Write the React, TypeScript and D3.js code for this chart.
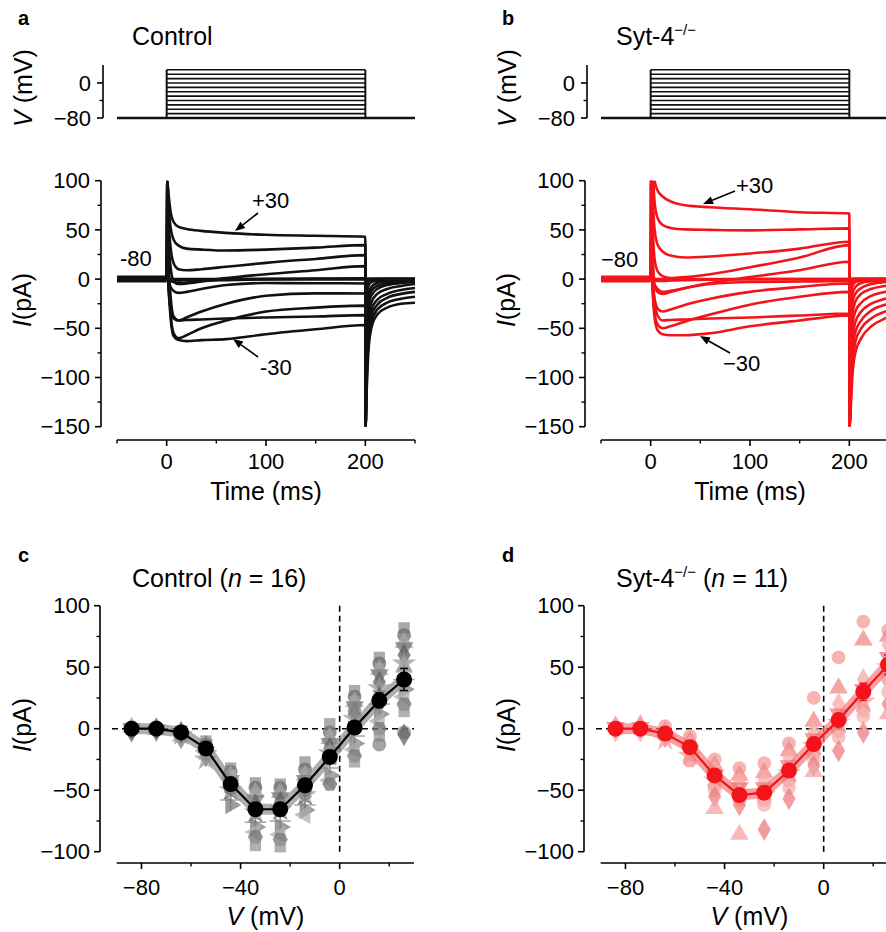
import React from "react";
import * as d3 from "d3";

const FONT = "'Liberation Sans', Arial, Helvetica, sans-serif";
const W = 886;
const H = 932;

// ---------- Voltage protocol ----------
const stepLevels = [-80, -70, -60, -50, -40, -30, -20, -10, 0, 10, 20, 30];
const stepStartMs = 0;
const stepEndMs = 200;
const holdingMV = -80;

// ---------- Current traces (pA) ----------
const stepT = [0, 0.6, 2, 4, 7, 12, 20, 35, 60, 100, 150, 200];
const tailT = [200.3, 201.5, 203, 206, 212, 222, 236, 250];

// order: +30, +20, +10, 0, -10, -20, -30, -40, -50, -60, -70, -80
const ctrlTraces = [
  [0, 100, 85, 68, 58, 53, 51, 49, 47, 45, 44, 43],
  [0, 100, 72, 52, 40, 34, 31, 30, 29, 30, 32, 34.5],
  [0, 100, 58, 32, 16, 10, 9, 10, 12.5, 16.5, 20.5, 24.4],
  [0, 90, 38, 12, -2, -5, -4.5, -2.5, 1, 5, 9, 13.2],
  [0, 60, 15, -18, -38, -42, -39, -33, -25, -17, -14.5, -14.6],
  [0, 40, 0, -35, -55, -60, -57, -50, -42, -33, -29, -27],
  [0, 25, -10, -40, -58, -62, -63, -62, -61, -56, -51, -46.7],
  [0, 10, -12, -30, -40, -42, -41.5, -41, -40, -39, -38, -36.6],
  [0, 5, -3, -8, -12, -14, -13, -10, -6, -4, -4.2, -4.4],
  [0, 3, -1, -2, -3, -4, -3.5, -2, -1, 0, 0.5, 0.7],
  [0, 1, 0, -1, -1, -1.5, -1, -0.5, 0, 0, 0, 0],
  [0, 0, 0, 0, 0, 0, 0, 0, 0, 0, 0, 0],
];
const ctrlTails = [
  [-150, -110, -75, -50, -36, -29, -25, -24],
  [-150, -100, -65, -43, -31, -24, -20, -18],
  [-150, -90, -57, -37, -26, -19, -15, -13],
  [-140, -80, -48, -31, -21, -15, -11, -9],
  [-120, -65, -38, -24, -15, -10, -7, -5],
  [-100, -50, -28, -17, -10, -6, -4, -3],
  [-90, -42, -22, -12, -7, -4, -2, -2],
  [-70, -30, -15, -8, -4, -2, -1, 0],
  [-40, -15, -7, -3, -1, 0, 0, 0],
  [-20, -6, -2, 0, 0, 0, 0, 0],
  [-5, -1, 0, 0, 0, 0, 0, 0],
  [0, 0, 0, 0, 0, 0, 0, 0],
];
const sytTraces = [
  [0, 130, 130, 100, 90, 84, 79, 75, 73, 71, 68, 66.7],
  [0, 130, 110, 78, 62, 55, 52, 50.5, 50, 49.5, 50.5, 51.5],
  [0, 130, 85, 50, 35, 28, 24, 22, 23, 26, 31, 38],
  [0, 110, 55, 20, 8, 3, 1, 2, 5, 12, 22, 34.5],
  [0, 70, 25, -5, -13, -15, -13, -9, -4, 2, 9, 17.6],
  [0, 45, 5, -20, -30, -33, -31, -26, -20, -13, -8, -4.4],
  [0, 25, -10, -40, -52, -56, -57, -57, -55, -48, -42, -37],
  [0, 15, -12, -35, -46, -50, -48, -43, -36, -26, -18, -13],
  [0, 8, -8, -25, -37, -42, -41.5, -41, -40, -39, -37, -35],
  [0, 4, -2, -6, -10, -13, -12, -9, -5, -3, -2.5, -2],
  [0, 1, 0, -1, -2, -2, -1.5, -1, -0.5, 0, 0, 0],
  [0, 0, 0, 0, 0, 0, 0, 0, 0, 0, 0, 0],
];
const sytTails = [
  [-150, -130, -100, -75, -60, -48, -40, -34],
  [-150, -120, -88, -64, -50, -40, -33, -28],
  [-150, -105, -75, -54, -42, -32, -26, -22],
  [-150, -90, -62, -44, -33, -25, -20, -16],
  [-130, -75, -48, -33, -24, -17, -13, -10],
  [-110, -60, -36, -23, -15, -10, -7, -5],
  [-90, -45, -25, -15, -9, -5, -3, -2],
  [-70, -32, -16, -8, -4, -2, -1, 0],
  [-40, -16, -7, -3, -1, 0, 0, 0],
  [-20, -6, -2, 0, 0, 0, 0, 0],
  [-5, -1, 0, 0, 0, 0, 0, 0],
  [0, 0, 0, 0, 0, 0, 0, 0],
];

// ---------- I-V data ----------
const ivV = [-84, -74, -64, -54, -44, -34, -24, -14, -4, 6, 16, 26];
const ctrlMean = [0, 0, -3, -16, -45, -65.5, -65.5, -46, -23, 1, 23, 40];
const ctrlSem = [0.5, 0.6, 1, 2, 3.5, 4, 4.5, 3.5, 3.5, 4, 6, 9];
const sytMean = [0, 0, -4, -15, -38, -54, -52, -34, -12.5, 7, 30, 52];
const sytSem = [0.8, 1, 1.5, 2.5, 4, 5, 5, 4, 4, 5, 7, 8];

const ctrlCells = [
  [0, -1, 1, 0, -2],
  [0, 1, -1, -2, 0],
  [-2, -4, -6, -8, -3, -5, -1],
  [-10, -13, -16, -19, -22, -25, -12, -18],
  [-32, -35, -38, -42, -46, -50, -54, -58, -62, -40, -48],
  [-44, -48, -52, -58, -62, -68, -72, -76, -80, -84, -88, -95, -66],
  [-45, -48, -52, -56, -60, -66, -70, -75, -80, -86, -90, -96, -63],
  [-27, -33, -38, -42, -48, -54, -58, -62, -66, -70, -50],
  [4, -3, -8, -12, -16, -20, -26, -32, -38, -42, -45, -18],
  [31, 26, 22, 18, 12, 8, 3, -6, -12, -17, -22, -27, 15],
  [58, 53, 48, 44, 38, 33, 28, 20, 12, 6, 0, -6, -13, 25],
  [82, 76, 70, 66, 60, 53, 46, 40, 32, 26, 20, 14, -3, -5, 50],
];
const sytCells = [
  [0, 2, -2, 1],
  [0, 3, -2, 1],
  [2, -2, -4, -7, -9],
  [-6, -10, -14, -18, -22, -26],
  [-25, -30, -34, -38, -42, -46, -50, -55, -65],
  [-32, -38, -44, -48, -52, -56, -58, -62, -86],
  [-28, -36, -42, -48, -54, -58, -62, -82],
  [-12, -18, -24, -30, -36, -42, -48, -57],
  [25, 6, -2, -8, -14, -20, -25, -30, -35],
  [58, 33, 20, 12, 5, -2, -7, -18],
  [87, 72, 40, 32, 22, 15, 10, -3],
  [80, 75, 68, 58, 50, 40, 30, 20, 12],
];

// ---------- ticks ----------
const timeMajor = [0, 100, 200];
const timeMinor = [-50, 50, 150, 250];
const curMajor = [100, 50, 0, -50, -100, -150];
const curMinor = [75, 25, -25, -75, -125];
const vMajor = [0, -80];
const vMinor = [-40];
const ivXMajor = [-80, -40, 0];
const ivXMinor = [-60, -20, 20];
const ivYMajor = [100, 50, 0, -50, -100];
const ivYMinor = [75, 25, -25, -75];

const fmt = (d: number) => (d < 0 ? "\u2212" + Math.abs(d) : String(d));

const ctrlShapes = ["square", "circle", "triangle", "triangleDown", "diamond", "star", "asterisk", "plus", "triangleRight", "triangleLeft", "hexagon", "square", "circle", "diamond", "triangle"];
const ctrlGreys = ["#8e8e8e", "#6e6e6e", "#a6a6a6", "#7c7c7c", "#5e5e5e", "#9c9c9c", "#6a6a6a", "#8a8a8a", "#7a7a7a", "#adadad", "#737373", "#959595", "#848484", "#666666", "#a2a2a2"];
const sytShapes = ["circle", "triangle", "diamond", "triangleDown", "star", "hexagon", "circle", "diamond", "triangle"];
const sytPinks = ["#f59a9a", "#f28888", "#f7aaaa", "#ef7676", "#f4a0a0", "#f19494", "#f6b0b0", "#ed7d7d", "#f3a3a3"];

function markerPath(shape: string, size: number): { d: string; rot: number; stroke: boolean } {
  const s: any = d3;
  let type: any = d3.symbolCircle;
  let rot = 0;
  let stroke = false;
  let sz = size;
  switch (shape) {
    case "square": type = d3.symbolSquare; sz = size * 0.85; break;
    case "triangle": type = d3.symbolTriangle; break;
    case "triangleDown": type = d3.symbolTriangle; rot = 180; break;
    case "triangleRight": type = d3.symbolTriangle; rot = 90; break;
    case "triangleLeft": type = d3.symbolTriangle; rot = -90; break;
    case "diamond": type = d3.symbolDiamond; break;
    case "star": type = d3.symbolStar; sz = size * 1.2; break;
    case "asterisk": type = s.symbolAsterisk || d3.symbolCross; stroke = true; sz = size * 1.1; break;
    case "plus": type = s.symbolPlus || d3.symbolCross; stroke = true; break;
    case "hexagon": {
      const r = Math.sqrt(size / 2.6);
      const pts = d3.range(6).map((i) => {
        const a = (Math.PI / 3) * i;
        return [r * Math.cos(a), r * Math.sin(a)];
      });
      return { d: "M" + pts.map((p) => p.join(",")).join("L") + "Z", rot: 0, stroke: false };
    }
    default: type = d3.symbolCircle;
  }
  const d = d3.symbol().type(type).size(sz)() || "";
  return { d, rot, stroke };
}

function Arrow({ x1, y1, x2, y2 }: { x1: number; y1: number; x2: number; y2: number }) {
  const ang = Math.atan2(y2 - y1, x2 - x1);
  const L = 10;
  const hw = 4;
  const bx = x2 - L * Math.cos(ang);
  const by = y2 - L * Math.sin(ang);
  const px = -Math.sin(ang) * hw;
  const py = Math.cos(ang) * hw;
  return (
    <g>
      <line x1={x1} y1={y1} x2={bx} y2={by} stroke="#000" strokeWidth={1.6} />
      <polygon points={`${x2},${y2} ${bx + px},${by + py} ${bx - px},${by - py}`} fill="#000" />
    </g>
  );
}

function TracePanel(props: {
  dx: number; id: string; traces: number[][]; tails: number[][]; color: string;
  letter: string; titleMain: string; sup?: string; annPlus: string; annMinus: string; annHold: string;
  arrows: { plus: number[]; minus: number[]; plusText: number[]; minusText: number[]; holdText: number[] };
}) {
  const { dx, id, traces, tails, color } = props;
  const xT = d3.scaleLinear().domain([-50, 250]).range([117 + dx, 415 + dx]);
  const yV = d3.scaleLinear().domain([-80, 41]).range([118, 65]);
  const yI = d3.scaleLinear().domain([-150, 100]).range([426.7, 180.7]);
  const line = d3
    .line<number[]>()
    .x((d) => xT(d[0]))
    .y((d) => yI(d[1]))
    .curve(d3.curveMonotoneX);
  const vAxisX = 103 + dx;
  const iAxisX = 101 + dx;
  const xAxisY = 440;
  const a = props.arrows;
  return (
    <g fontFamily={FONT}>
      <text x={18 + dx} y={25} fontSize={20} fontWeight="bold">{props.letter}</text>
      <text x={132 + dx} y={45} fontSize={25}>
        {props.titleMain}
        {props.sup ? <tspan dy={-10} fontSize={15}>{props.sup}</tspan> : null}
      </text>

      {/* voltage protocol */}
      <line x1={vAxisX} x2={vAxisX} y1={65} y2={118} stroke="#000" strokeWidth={1.6} />
      {vMajor.map((v) => (
        <g key={"vm" + v}>
          <line x1={vAxisX - 6} x2={vAxisX} y1={yV(v)} y2={yV(v)} stroke="#000" strokeWidth={1.6} />
          <text x={91 + dx} y={yV(v)} dy="0.35em" fontSize={22} textAnchor="end">{fmt(v)}</text>
        </g>
      ))}
      {vMinor.map((v) => (
        <line key={"vn" + v} x1={vAxisX - 3.5} x2={vAxisX} y1={yV(v)} y2={yV(v)} stroke="#000" strokeWidth={1.4} />
      ))}
      <text transform={`translate(${32 + dx},88) rotate(-90)`} fontSize={25} textAnchor="middle">
        <tspan fontStyle="italic">V</tspan> (mV)
      </text>
      <line x1={xT(-50)} x2={xT(250)} y1={yV(holdingMV)} y2={yV(holdingMV)} stroke="#111" strokeWidth={2.6} />
      {stepLevels.map((v) => (
        <line key={"st" + v} x1={xT(stepStartMs)} x2={xT(stepEndMs)} y1={yV(v)} y2={yV(v)} stroke="#111" strokeWidth={1.6} />
      ))}
      <line x1={xT(stepStartMs)} x2={xT(stepStartMs)} y1={yV(-80)} y2={yV(30)} stroke="#111" strokeWidth={2} />
      <line x1={xT(stepEndMs)} x2={xT(stepEndMs)} y1={yV(-80)} y2={yV(30)} stroke="#111" strokeWidth={2} />

      {/* current axis */}
      <line x1={iAxisX} x2={iAxisX} y1={yI(100)} y2={yI(-150)} stroke="#000" strokeWidth={1.6} />
      {curMajor.map((v) => (
        <g key={"cm" + v}>
          <line x1={iAxisX - 6} x2={iAxisX} y1={yI(v)} y2={yI(v)} stroke="#000" strokeWidth={1.6} />
          <text x={90 + dx} y={yI(v)} dy="0.35em" fontSize={22} textAnchor="end">{fmt(v)}</text>
        </g>
      ))}
      {curMinor.map((v) => (
        <line key={"cn" + v} x1={iAxisX - 3.5} x2={iAxisX} y1={yI(v)} y2={yI(v)} stroke="#000" strokeWidth={1.4} />
      ))}
      <text transform={`translate(${31 + dx},300) rotate(-90)`} fontSize={25} textAnchor="middle">
        <tspan fontStyle="italic">I</tspan>(pA)
      </text>

      {/* time axis */}
      <line x1={xT(-50)} x2={xT(250)} y1={xAxisY} y2={xAxisY} stroke="#000" strokeWidth={1.6} />
      {timeMajor.map((t) => (
        <g key={"tm" + t}>
          <line x1={xT(t)} x2={xT(t)} y1={xAxisY} y2={xAxisY + 6} stroke="#000" strokeWidth={1.6} />
          <text x={xT(t)} y={469} fontSize={22} textAnchor="middle">{fmt(t)}</text>
        </g>
      ))}
      {timeMinor.map((t) => (
        <line key={"tn" + t} x1={xT(t)} x2={xT(t)} y1={xAxisY} y2={xAxisY + 3.5} stroke="#000" strokeWidth={1.4} />
      ))}
      <text x={xT(100)} y={500} fontSize={25} textAnchor="middle">Time (ms)</text>

      {/* traces */}
      <defs>
        <clipPath id={id}>
          <rect x={xT(-50)} y={yI(100)} width={xT(250) - xT(-50) + 2} height={yI(-150) - yI(100)} />
        </clipPath>
      </defs>
      <g clipPath={`url(#${id})`}>
        <line x1={xT(-50)} x2={xT(0)} y1={yI(0)} y2={yI(0)} stroke={color} strokeWidth={7} />
        <line x1={xT(200)} x2={xT(250)} y1={yI(-1)} y2={yI(-1)} stroke={color} strokeWidth={5} />
        {traces.map((tr, k) => {
          const pts: number[][] = [[-50, 0]];
          stepT.forEach((t, i) => pts.push([t, tr[i]]));
          tailT.forEach((t, i) => pts.push([t, tails[k][i]]));
          return (
            <path key={"tr" + k} d={line(pts) || ""} fill="none" stroke={color} strokeWidth={2.6} strokeLinejoin="round" />
          );
        })}
      </g>

      {/* annotations */}
      <text x={a.plusText[0]} y={a.plusText[1]} fontSize={22}>{props.annPlus}</text>
      <text x={a.minusText[0]} y={a.minusText[1]} fontSize={22}>{props.annMinus}</text>
      <text x={a.holdText[0]} y={a.holdText[1]} fontSize={22}>{props.annHold}</text>
      <Arrow x1={a.plus[0]} y1={a.plus[1]} x2={a.plus[2]} y2={a.plus[3]} />
      <Arrow x1={a.minus[0]} y1={a.minus[1]} x2={a.minus[2]} y2={a.minus[3]} />
    </g>
  );
}

function IVPanel(props: {
  dx: number; mean: number[]; sem: number[]; cells: number[][]; color: string; bandColor: string;
  shapes: string[]; cellColors: string[]; cellOpacity: number; letter: string; title: React.ReactNode;
}) {
  const { dx, mean, sem, cells, color } = props;
  const xV = d3.scaleLinear().domain([-90, 30]).range([116.7 + dx, 414 + dx]);
  const y = d3.scaleLinear().domain([-100, 100]).range([851.7, 605.7]);
  const line = d3
    .line<number>()
    .x((_, i) => xV(ivV[i]))
    .y((d) => y(d));
  const axX = 100 + dx;
  const axY = 863;
  return (
    <g fontFamily={FONT}>
      <text x={18 + dx} y={562} fontSize={20} fontWeight="bold">{props.letter}</text>
      <text x={132 + dx} y={587} fontSize={25}>{props.title}</text>

      {/* axes */}
      <line x1={axX} x2={axX} y1={y(100)} y2={y(-100)} stroke="#000" strokeWidth={1.6} />
      {ivYMajor.map((v) => (
        <g key={"ym" + v}>
          <line x1={axX - 6} x2={axX} y1={y(v)} y2={y(v)} stroke="#000" strokeWidth={1.6} />
          <text x={90 + dx} y={y(v)} dy="0.35em" fontSize={22} textAnchor="end">{fmt(v)}</text>
        </g>
      ))}
      {ivYMinor.map((v) => (
        <line key={"yn" + v} x1={axX - 3.5} x2={axX} y1={y(v)} y2={y(v)} stroke="#000" strokeWidth={1.4} />
      ))}
      <text transform={`translate(${31 + dx},725) rotate(-90)`} fontSize={25} textAnchor="middle">
        <tspan fontStyle="italic">I</tspan>(pA)
      </text>
      <line x1={xV(-90)} x2={xV(30)} y1={axY} y2={axY} stroke="#000" strokeWidth={1.6} />
      {ivXMajor.map((v) => (
        <g key={"xm" + v}>
          <line x1={xV(v)} x2={xV(v)} y1={axY} y2={axY + 6} stroke="#000" strokeWidth={1.6} />
          <text x={xV(v)} y={895} fontSize={22} textAnchor="middle">{fmt(v)}</text>
        </g>
      ))}
      {ivXMinor.map((v) => (
        <line key={"xn" + v} x1={xV(v)} x2={xV(v)} y1={axY} y2={axY + 3.5} stroke="#000" strokeWidth={1.4} />
      ))}
      <text x={xV(-30)} y={925} fontSize={25} textAnchor="middle">
        <tspan fontStyle="italic">V</tspan> (mV)
      </text>

      {/* dashed zero lines */}
      <line x1={112 + dx} x2={xV(30)} y1={y(0)} y2={y(0)} stroke="#000" strokeWidth={1.6} strokeDasharray="6,4" />
      <line x1={xV(0)} x2={xV(0)} y1={y(100)} y2={y(-100) + 1} stroke="#000" strokeWidth={1.6} strokeDasharray="6,4" />

      {/* individual cells */}
      {cells.map((vals, i) =>
        vals.map((v, k) => {
          const shape = props.shapes[k % props.shapes.length];
          const c = props.cellColors[k % props.cellColors.length];
          const m = markerPath(shape, 150);
          return (
            <path
              key={`c${i}-${k}`}
              d={m.d}
              transform={`translate(${xV(ivV[i])},${y(v)}) rotate(${m.rot})`}
              fill={m.stroke ? "none" : c}
              stroke={m.stroke ? c : "none"}
              strokeWidth={m.stroke ? 1.5 : 0}
              opacity={props.cellOpacity}
            />
          );
        })
      )}

      {/* SEM band + mean line */}
      <path d={line(mean) || ""} fill="none" stroke={props.bandColor} strokeWidth={11} strokeLinejoin="round" opacity={0.7} />
      {mean.map((m, i) => (
        <g key={"eb" + i}>
          <line x1={xV(ivV[i])} x2={xV(ivV[i])} y1={y(m - sem[i])} y2={y(m + sem[i])} stroke={color} strokeWidth={1.5} />
          <line x1={xV(ivV[i]) - 4} x2={xV(ivV[i]) + 4} y1={y(m + sem[i])} y2={y(m + sem[i])} stroke={color} strokeWidth={1.5} />
          <line x1={xV(ivV[i]) - 4} x2={xV(ivV[i]) + 4} y1={y(m - sem[i])} y2={y(m - sem[i])} stroke={color} strokeWidth={1.5} />
        </g>
      ))}
      <path d={line(mean) || ""} fill="none" stroke={color} strokeWidth={2.2} strokeLinejoin="round" />
      {mean.map((m, i) => (
        <circle key={"mc" + i} cx={xV(ivV[i])} cy={y(m)} r={8} fill={color} />
      ))}
    </g>
  );
}

export default function App() {
  const red = "#f2141a";
  return (
    <svg
      width={W}
      height={H}
      viewBox={`0 0 ${W} ${H}`}
      style={{ position: "absolute", left: 0, top: 0, display: "block" }}
    >
      <rect x={0} y={0} width={W} height={H} fill="#fff" />
      <TracePanel
        dx={0}
        id="clipA"
        traces={ctrlTraces}
        tails={ctrlTails}
        color="#111"
        letter="a"
        titleMain="Control"
        annPlus="+30"
        annMinus="-30"
        annHold="-80"
        arrows={{
          plus: [258, 213, 235, 231],
          minus: [258, 357, 233, 339],
          plusText: [252, 208],
          minusText: [260, 375],
          holdText: [120, 266],
        }}
      />
      <TracePanel
        dx={484}
        id="clipB"
        traces={sytTraces}
        tails={sytTails}
        color={red}
        letter="b"
        titleMain="Syt-4"
        sup={"\u2212/\u2212"}
        annPlus="+30"
        annMinus={"\u221230"}
        annHold={"\u221280"}
        arrows={{
          plus: [735, 191, 703, 204],
          minus: [730, 353, 700, 336],
          plusText: [736, 193],
          minusText: [723, 371],
          holdText: [601, 267],
        }}
      />
      <IVPanel
        dx={0}
        mean={ctrlMean}
        sem={ctrlSem}
        cells={ctrlCells}
        color="#000"
        bandColor="#8c8c8c"
        shapes={ctrlShapes}
        cellColors={ctrlGreys}
        cellOpacity={0.75}
        letter="c"
        title={
          <>
            Control (<tspan fontStyle="italic">n</tspan> = 16)
          </>
        }
      />
      <IVPanel
        dx={484}
        mean={sytMean}
        sem={sytSem}
        cells={sytCells}
        color={red}
        bandColor="#f27a7a"
        shapes={sytShapes}
        cellColors={sytPinks}
        cellOpacity={0.75}
        letter="d"
        title={
          <>
            Syt-4<tspan dy={-10} fontSize={15}>{"\u2212/\u2212"}</tspan>
            <tspan dy={10}> (</tspan>
            <tspan fontStyle="italic">n</tspan> = 11)
          </>
        }
      />
    </svg>
  );
}
